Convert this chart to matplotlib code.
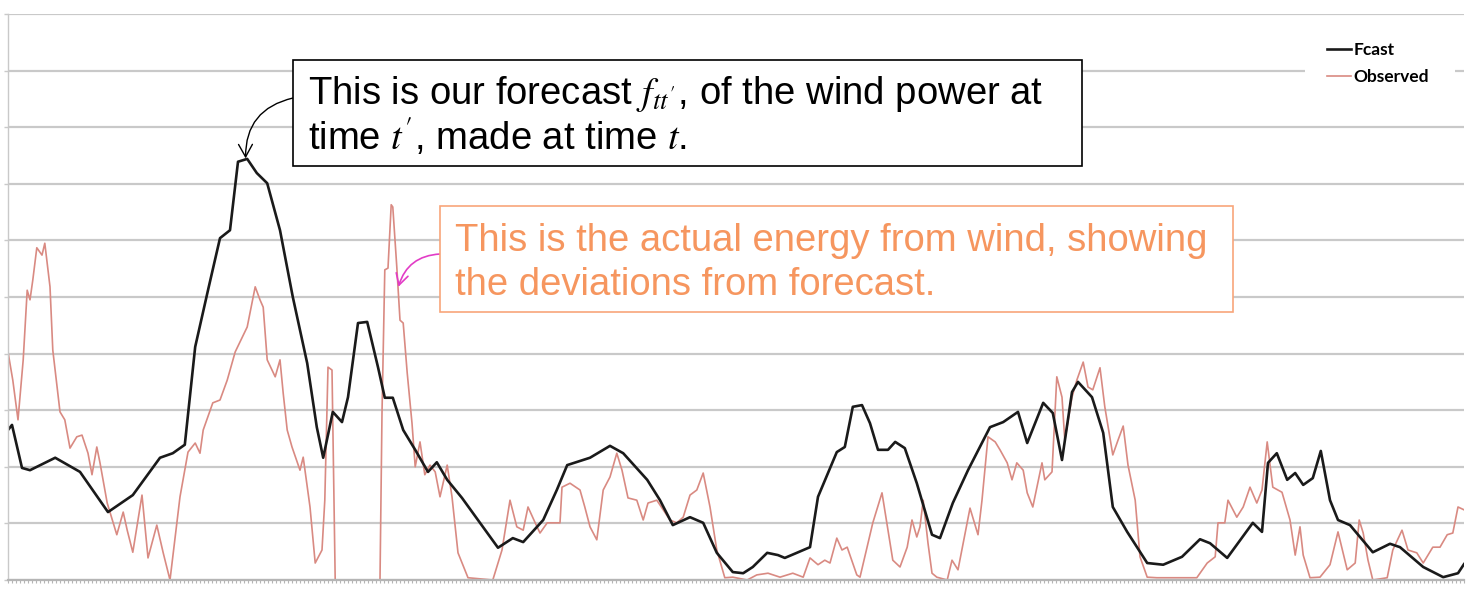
import numpy as np
import matplotlib
matplotlib.use("Agg")
import matplotlib.pyplot as plt
from matplotlib.patches import Rectangle
from matplotlib.lines import Line2D

# --------------------------------------------------
# Datos (hora, potencia eolica)
# --------------------------------------------------
fcast_hour = [0, 1, 3.5, 5.5, 11.8, 18, 25, 31.2, 38, 41.2,
              44.2, 46.8, 50, 53, 55.5, 57.5, 59.8, 62.2, 64.8, 68,
              71.2, 74.8, 77.2, 78.8, 81.2, 83.5, 85, 87.5, 89.8, 92.5,
              94.2, 96.2, 98.8, 101.8, 105, 107.2, 109.8, 113.5, 118, 122.5,
              126.2, 128.8, 133.8, 137.2, 139.8, 145.5, 150.5, 153.8, 159.8, 163,
              166.2, 170.5, 173.8, 177.2, 181.2, 183.8, 186.2, 189.8, 192.5, 194.2,
              197.2, 200.5, 202.5, 207.2, 209.2, 211.2, 213.5, 215.5, 217.5, 220,
              221.8, 224.2, 227.2, 231, 233, 236.2, 240, 245.5, 248.8, 252.5,
              254.8, 258.8, 261.2, 263.5, 266, 267.5, 271, 273.8, 276.2, 279.8,
              284.8, 288.8, 293.5, 298, 300.5, 304.8, 311.2, 313.5, 315, 317.2,
              319.8, 321.8, 323.8, 326.2, 328.2, 330.5, 332.5, 335.5, 341.2, 345.5,
              348, 353.8, 358.8, 362.5, 364]
fcast_mw = [26.5, 27.4, 19.8, 19.4, 21.6, 19.1, 12.0, 15.0, 21.6, 22.4,
            23.9, 41.2, 51.2, 60.4, 61.8, 73.9, 74.4, 71.9, 70.1, 61.8,
            50.0, 38.3, 27.0, 21.6, 29.7, 27.9, 32.3, 45.4, 45.6, 37.6,
            32.2, 32.2, 26.5, 23.0, 19.1, 20.8, 17.7, 14.5, 10.1, 5.7,
            7.4, 6.7, 10.6, 15.9, 20.3, 21.6, 23.7, 22.4, 17.7, 14.1,
            9.7, 11.1, 10.1, 4.8, 1.4, 1.2, 2.3, 4.8, 4.4, 3.9,
            4.8, 5.8, 14.7, 22.6, 23.5, 30.6, 30.9, 27.7, 23.0, 23.0,
            24.4, 23.3, 17.1, 8.0, 7.4, 13.6, 19.4, 27.0, 27.9, 29.7,
            24.2, 31.3, 29.5, 21.2, 33.2, 35.0, 32.3, 26.0, 12.9, 8.5,
            3.0, 2.7, 4.1, 7.2, 6.5, 3.9, 10.1, 8.5, 20.7, 22.4,
            17.7, 18.9, 16.8, 18.0, 22.8, 14.1, 10.6, 9.7, 4.9, 6.4,
            5.8, 2.3, 0.5, 1.2, 2.8]

obs_hour = [0, 1.2, 2.5, 3.8, 4.8, 5.5, 6.2, 7.2, 8.5, 9.2,
            10.5, 11.2, 13, 14.2, 15.5, 17.2, 18.5, 20, 21, 22.2,
            23, 24.8, 27.2, 28.8, 29.8, 31.2, 33.5, 35, 37.2, 38.8,
            40.5, 43, 45, 46.8, 48, 48.8, 51.2, 53, 54.8, 56.8,
            59.8, 61.8, 63, 63.8, 64.8, 66, 66.8, 68, 68.8, 69.8,
            71, 73, 73.8, 75.5, 76.8, 78.5, 79.2, 80, 81, 81.8,
            93, 93.5, 94.2, 95, 95.8, 96.2, 97.2, 98, 98.8, 99.8,
            101, 101.8, 103, 104.2, 105.5, 106.8, 108, 109.8, 111, 112.5,
            115, 121.2, 123.5, 125.5, 127.2, 128.8, 130, 131.8, 133, 134.8,
            138, 138.5, 140.5, 143, 144.2, 145.5, 147.2, 148.8, 150.5, 152.2,
            153.5, 155, 157.2, 158.8, 160, 162.2, 163.8, 165.5, 167.2, 168.8,
            170.5, 172.2, 173.8, 175.5, 177.2, 179.2, 181.2, 184.8, 187.2, 190,
            193, 196.2, 198.8, 200.5, 202.5, 204.2, 205.5, 207.2, 208.5, 209.8,
            212.2, 213, 216.2, 218.5, 220, 221.2, 223, 224.8, 226, 227.2,
            228, 228.8, 230, 231, 232.2, 234.8, 236, 237.5, 238.8, 240.5,
            242.5, 243.5, 245, 246.8, 248, 249.8, 251, 252.2, 253.8, 254.8,
            256.2, 258.5, 259.2, 261, 262.2, 263.5, 264.2, 266, 267.2, 268.8,
            270, 271.2, 273, 274.2, 276.2, 277.5, 278.8, 280, 281.8, 283,
            284.8, 287.2, 297.2, 299.8, 301.8, 302.5, 304.2, 305, 307.2, 308.8,
            310.5, 312.2, 313.5, 314.8, 316.2, 318.5, 320.5, 321.8, 323, 323.8,
            325.5, 328, 330.5, 332.5, 334.8, 336.8, 337.8, 338.8, 340, 341.2,
            344.8, 346.2, 348.5, 350, 352.2, 353.8, 356.2, 358, 359.8, 361.2,
            362.5, 364]
obs_mw = [40.3, 35.3, 28.3, 38.9, 51.2, 49.5, 53.0, 58.7, 57.4, 59.5,
          51.8, 40.6, 29.7, 28.3, 23.3, 25.3, 25.6, 22.4, 18.6, 23.5,
          20.7, 13.6, 8.0, 12.0, 8.8, 4.9, 15.0, 3.9, 9.7, 4.8,
          0, 14.7, 22.6, 24.2, 22.4, 26.5, 31.3, 31.8, 35.3, 40.3,
          44.7, 51.8, 49.5, 48.2, 38.9, 37.1, 35.9, 38.9, 33.0, 26.5,
          23.5, 19.4, 21.7, 12.9, 3.0, 5.3, 14.1, 37.6, 37.1, 0,
          0, 29.5, 54.8, 55.1, 66.3, 65.9, 55.3, 45.9, 45.4, 36.6,
          27.7, 20.0, 24.4, 18.6, 20.3, 19.1, 14.7, 20.3, 14.7, 4.8,
          0.4, 0, 5.3, 14.1, 9.4, 8.8, 12.9, 10.1, 8.3, 10.1,
          10.1, 16.4, 17.1, 15.9, 12.9, 9.4, 7.1, 15.9, 18.2, 22.4,
          19.4, 14.5, 14.1, 10.6, 13.6, 14.1, 12.4, 10.6, 10.1, 11.1,
          15.0, 15.9, 18.9, 12.9, 5.3, 0.4, 0.5, 0, 0.9, 1.2,
          0.5, 1.2, 0.5, 3.9, 2.7, 3.5, 3.0, 7.4, 5.3, 5.8,
          0.9, 0.5, 10.1, 15.4, 8.8, 3.5, 2.3, 5.8, 10.6, 7.6,
          9.4, 14.1, 6.5, 1.2, 0.5, 0, 3.5, 1.8, 6.5, 12.7,
          8.0, 14.1, 25.3, 24.4, 23.0, 20.7, 17.7, 20.7, 19.4, 15.4,
          12.9, 20.7, 17.7, 19.1, 35.9, 32.3, 24.7, 32.3, 35.3, 38.5,
          34.1, 33.6, 37.5, 30.6, 22.1, 24.7, 27.2, 20.3, 14.1, 4.1,
          0.5, 0.4, 0.4, 3.0, 4.1, 10.1, 10.1, 14.1, 11.1, 12.9,
          16.4, 13.6, 15.9, 24.4, 16.4, 15.5, 10.6, 4.4, 9.4, 4.4,
          0.4, 0.5, 2.7, 8.5, 1.8, 3.0, 10.6, 8.3, 3.5, 0,
          0.4, 5.3, 8.8, 5.3, 4.8, 3.0, 5.8, 5.8, 8.0, 8.3,
          12.9, 12.4]

W, H = 1477, 590
grid_color = "#c9c9c9"
fcast_color = "#1a1a1a"
obs_color = "#d98a82"
orange = "#f6965f"

plt.rcParams["mathtext.fontset"] = "stix"

fig = plt.figure(figsize=(W / 100, H / 100), dpi=100)
ax = fig.add_axes([8 / W, 10 / H, 1456 / W, 566 / H])
ax.set_xlim(0, 364)
ax.set_ylim(0, 100)

# rejilla horizontal sin etiquetas, estilo Excel
ax.set_yticks(np.arange(0, 101, 10))
ax.set_xticks([])
ax.set_xticks(np.arange(0, 365, 1), minor=True)
ax.yaxis.grid(True, color=grid_color, lw=1.6)
ax.set_axisbelow(True)
ax.tick_params(labelleft=False, labelbottom=False)
ax.tick_params(axis="y", length=3, color=grid_color, width=1)
ax.tick_params(axis="x", which="minor", length=2, color="#b5b5b5", width=0.8)
for s in ["top", "right"]:
    ax.spines[s].set_visible(False)
ax.spines["left"].set_color(grid_color)
ax.spines["left"].set_linewidth(1.0)
ax.spines["bottom"].set_color("#b5b5b5")
ax.spines["bottom"].set_linewidth(1.6)

ax.plot(obs_hour, obs_mw, color=obs_color, lw=1.2, solid_joinstyle="round")
ax.plot(fcast_hour, fcast_mw, color=fcast_color, lw=1.9, solid_joinstyle="round")

# fondo blanco de la leyenda (tapa la linea de rejilla)
ax.add_patch(Rectangle((1305 / W, 1 - 94 / H), 150 / W, 58 / H,
                       transform=fig.transFigure, facecolor="white",
                       edgecolor="none", zorder=2.5, clip_on=False))

# leyenda arriba a la derecha
handles = [Line2D([], [], color=fcast_color, lw=1.9),
           Line2D([], [], color=obs_color, lw=1.2)]
ax.legend(handles, ["Fcast", "Observed"], loc="upper left",
          bbox_to_anchor=(1322 / W, 1 - 37 / H), bbox_transform=fig.transFigure,
          frameon=False, borderaxespad=0,
          prop=dict(family="Lato", weight="bold", size=12.5),
          handlelength=1.35, handletextpad=0.15, labelspacing=0.6, borderpad=0.3)

# caja del pronostico
fig.add_artist(Rectangle((293 / W, 1 - 166 / H), 789 / W, 106 / H,
                         transform=fig.transFigure, facecolor="white",
                         edgecolor="black", lw=1.2))
fig.text(308 / W, 1 - 104 / H, "This is our forecast $f_{tt'}$, of the wind power at",
         fontsize=27.5, family="Liberation Sans", va="baseline")
fig.text(308 / W, 1 - 150 / H, "time $t'$, made at time $t$.",
         fontsize=27.5, family="Liberation Sans", va="baseline")

# caja de lo observado
fig.add_artist(Rectangle((440 / W, 1 - 312 / H), 793 / W, 106 / H,
                         transform=fig.transFigure, facecolor="white",
                         edgecolor="#f8a57a", lw=1.2))
fig.text(455 / W, 1 - 251 / H, "This is the actual energy from wind, showing",
         fontsize=27.5, family="Liberation Sans", va="baseline", color=orange)
fig.text(455 / W, 1 - 295 / H, "the deviations from forecast.",
         fontsize=27.5, family="Liberation Sans", va="baseline", color=orange)

# flechas curvas hacia las series
ax.annotate("", xy=(59.4, 74.5), xycoords="data",
            xytext=(293, H - 98), textcoords="figure pixels",
            arrowprops=dict(arrowstyle="->,head_length=0.45,head_width=0.25",
                            mutation_scale=20, color="black", lw=1.0,
                            connectionstyle="arc3,rad=0.4", shrinkA=0, shrinkB=0))
ax.annotate("", xy=(97.6, 51.8), xycoords="data",
            xytext=(440, H - 254), textcoords="figure pixels",
            arrowprops=dict(arrowstyle="->,head_length=0.4,head_width=0.22",
                            mutation_scale=20, color="#e23cc6", lw=1.2,
                            connectionstyle="arc3,rad=0.35", shrinkA=0, shrinkB=0))

fig.savefig("out.png", dpi=100)
